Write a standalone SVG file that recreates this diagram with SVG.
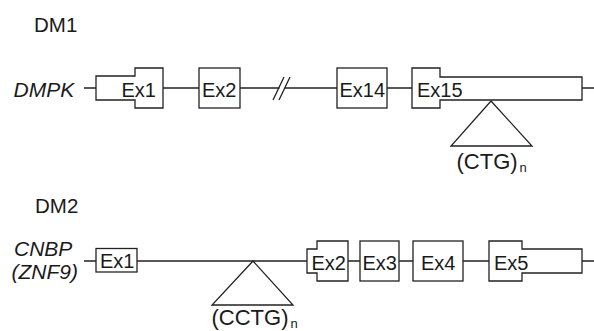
<svg xmlns="http://www.w3.org/2000/svg" width="594" height="331" viewBox="0 0 594 331">
<style>
text{font-family:"Liberation Sans",Arial,sans-serif;fill:#1a1a1a;font-size:20px}
.big{font-size:20.5px}
.it{font-style:italic;font-size:21px}
.rep{font-size:22px}
.sub{font-size:13px}
.shape{fill:#fff;stroke:#222;stroke-width:1.3}
.ln{fill:none;stroke:#222;stroke-width:1.3}
</style>
<rect width="594" height="331" fill="#fff"/>
<g id="labels">
<text class="big" x="34" y="32">DM1</text>
<text class="it" x="13.5" y="97">DMPK</text>
<text class="big" x="35" y="212.5">DM2</text>
<text class="it" x="14" y="256">CNBP</text>
<text class="it" x="11.5" y="278.5">(ZNF9)</text>
</g>
<g id="connectors">
<path class="ln" d="M84,88H96M163,88H199M240,88H279.5M284.5,88H337M387,88H412M582,88H594"/>
<path class="ln" d="M273,100L284,77M279,100L290,77"/>
<path class="ln" d="M84,261H96M137,261H307M348,261H360M399,261H413M463,261H489M582,261H594"/>
</g>
<g id="dm1-ex1"><path class="shape" d="M96,76H135V68H163V108H135V100H96Z"/><text x="121.5" y="97">Ex1</text></g>
<g id="dm1-ex2"><rect class="shape" x="199" y="68" width="41" height="40"/><text x="202" y="97">Ex2</text></g>
<g id="dm1-ex14"><rect class="shape" x="337" y="68" width="50" height="40"/><text x="339.5" y="97">Ex14</text></g>
<g id="dm1-ex15"><path class="shape" d="M412,68H440V77H582V100H440V108H412Z"/><text x="417" y="97">Ex15</text></g>
<g id="ctg"><path class="shape" d="M491,101L532,146H451Z"/><text class="rep" x="456.5" y="169">(CTG)<tspan class="sub" dx="2" dy="3">n</tspan></text></g>
<g id="dm2-ex1"><rect class="shape" x="96" y="248.5" width="41" height="23.5"/><text x="100" y="267.5">Ex1</text></g>
<g id="cctg"><path class="shape" d="M253,261L293,305H212Z"/><text class="rep" x="211.5" y="325">(CCTG)<tspan class="sub" dx="2" dy="3">n</tspan></text></g>
<g id="dm2-ex2"><path class="shape" d="M307,249H317V241H348V281H317V273H307Z"/><text x="311.5" y="270">Ex2</text></g>
<g id="dm2-ex3"><rect class="shape" x="360" y="241" width="39" height="40"/><text x="362.5" y="270">Ex3</text></g>
<g id="dm2-ex4"><rect class="shape" x="413" y="241" width="50" height="40"/><text x="421" y="270">Ex4</text></g>
<g id="dm2-ex5"><path class="shape" d="M489,241H522V249H582V273H522V281H489Z"/><text x="494" y="270">Ex5</text></g>
</svg>
